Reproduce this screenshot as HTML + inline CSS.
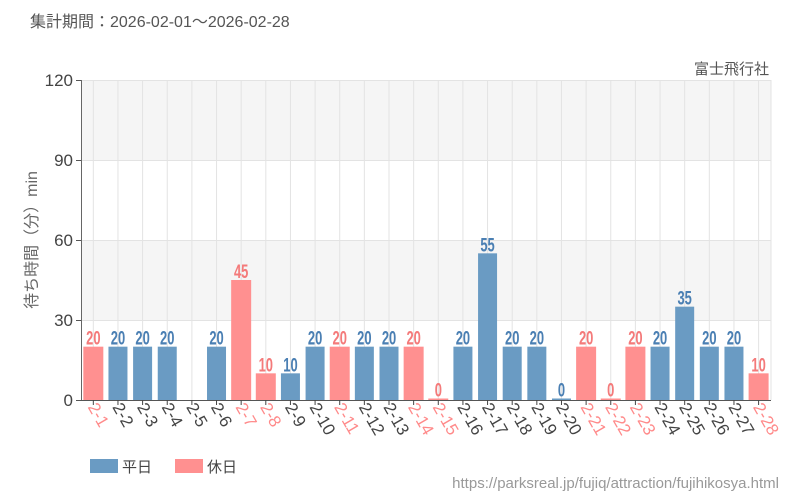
<!DOCTYPE html>
<html><head><meta charset="utf-8"><style>
body{margin:0;background:#fff;}
svg{display:block;font-family:"Liberation Sans","Noto Sans CJK JP",sans-serif;}
</style></head><body>
<svg width="800" height="500" viewBox="0 0 800 500" xmlns="http://www.w3.org/2000/svg">
<text x="30" y="27" font-size="16" fill="#555">集計期間：2026-02-01～2026-02-28</text>
<text x="769" y="74" font-size="15" fill="#555" text-anchor="end">富士飛行社</text>
<rect x="81" y="80" width="690" height="80" fill="#f5f5f5"/>
<rect x="81" y="240" width="690" height="80" fill="#f5f5f5"/>
<g stroke="#e3e3e3" stroke-width="1">
<line x1="81" y1="80.5" x2="771" y2="80.5"/><line x1="81" y1="160.5" x2="771" y2="160.5"/><line x1="81" y1="240.5" x2="771" y2="240.5"/><line x1="81" y1="320.5" x2="771" y2="320.5"/>
<line x1="771" y1="80" x2="771" y2="400"/>
</g>
<g id="vg" stroke="#e3e3e3" stroke-width="1"></g>
<g id="bars"></g>
<line x1="81.5" y1="80" x2="81.5" y2="400" stroke="#666"/>
<line x1="81" y1="400.5" x2="771" y2="400.5" stroke="#555"/>
<g font-size="17" fill="#444" text-anchor="end">
<text x="73" y="86">120</text><text x="73" y="166">90</text><text x="73" y="246">60</text><text x="73" y="326">30</text><text x="73" y="406">0</text>
</g>
<g stroke="#555"><line x1="76" y1="80.5" x2="81" y2="80.5"/><line x1="76" y1="160.5" x2="81" y2="160.5"/><line x1="76" y1="240.5" x2="81" y2="240.5"/><line x1="76" y1="320.5" x2="81" y2="320.5"/><line x1="76" y1="400.5" x2="81" y2="400.5"/></g>
<text transform="translate(37,240) rotate(-90)" font-size="16" fill="#666" text-anchor="middle">待ち時間（分）min</text>
<rect x="90" y="459" width="28" height="14" fill="#6a9bc3"/><text x="122" y="472" font-size="15" fill="#444">平日</text>
<rect x="175" y="459" width="28" height="14" fill="#ff9090"/><text x="207" y="472" font-size="15" fill="#444">休日</text>
<text x="779" y="488" font-size="15" fill="#999" text-anchor="end">https://parksreal.jp/fujiq/attraction/fujihikosya.html</text>
<g id="labels"></g>
<script>
var d=[[20,1],[20,0],[20,0],[20,0],[null,0],[20,0],[45,1],[10,1],[10,0],[20,0],[20,1],[20,0],[20,0],[20,1],[0,1],[20,0],[55,0],[20,0],[20,0],[0,0],[20,1],[0,1],[20,1],[20,0],[35,0],[20,0],[20,0],[10,1]];
var ns="http://www.w3.org/2000/svg",b=document.getElementById('bars'),vg=document.getElementById('vg'),lb=document.getElementById('labels');
function el(t,a,p,tx){var e=document.createElementNS(ns,t);for(var k in a)e.setAttribute(k,a[k]);if(tx!=null)e.textContent=tx;p.appendChild(e);return e;}
for(var i=0;i<28;i++){var cx=81+12.32+i*24.64,v=d[i][0],h=d[i][1];
el('line',{x1:cx,y1:80,x2:cx,y2:400},vg);
el('line',{x1:cx,y1:400,x2:cx,y2:405,stroke:'#444'},lb);
var fc=h?'#ff9090':'#6a9bc3',tc=h?'#f47a7a':'#4a7fb3';
if(v!=null){var hh=Math.max(v*320/120,1.5),w=h?20:19;
el('rect',{x:cx-w/2,y:400-hh,width:w,height:hh,fill:fc},b);
el('text',{x:0,y:0,'font-size':19,'font-weight':'bold',fill:tc,'text-anchor':'middle',transform:'translate('+cx+','+(400-hh-2)+') scale(0.68,1)'},b,String(v));}
el('text',{x:0,y:0,'font-size':17,fill:h?'#ff8a8a':'#444',transform:'translate('+(cx-6)+',407) rotate(60)'},lb,'2-'+(i+1));}
</script>
</svg>
</body></html>
